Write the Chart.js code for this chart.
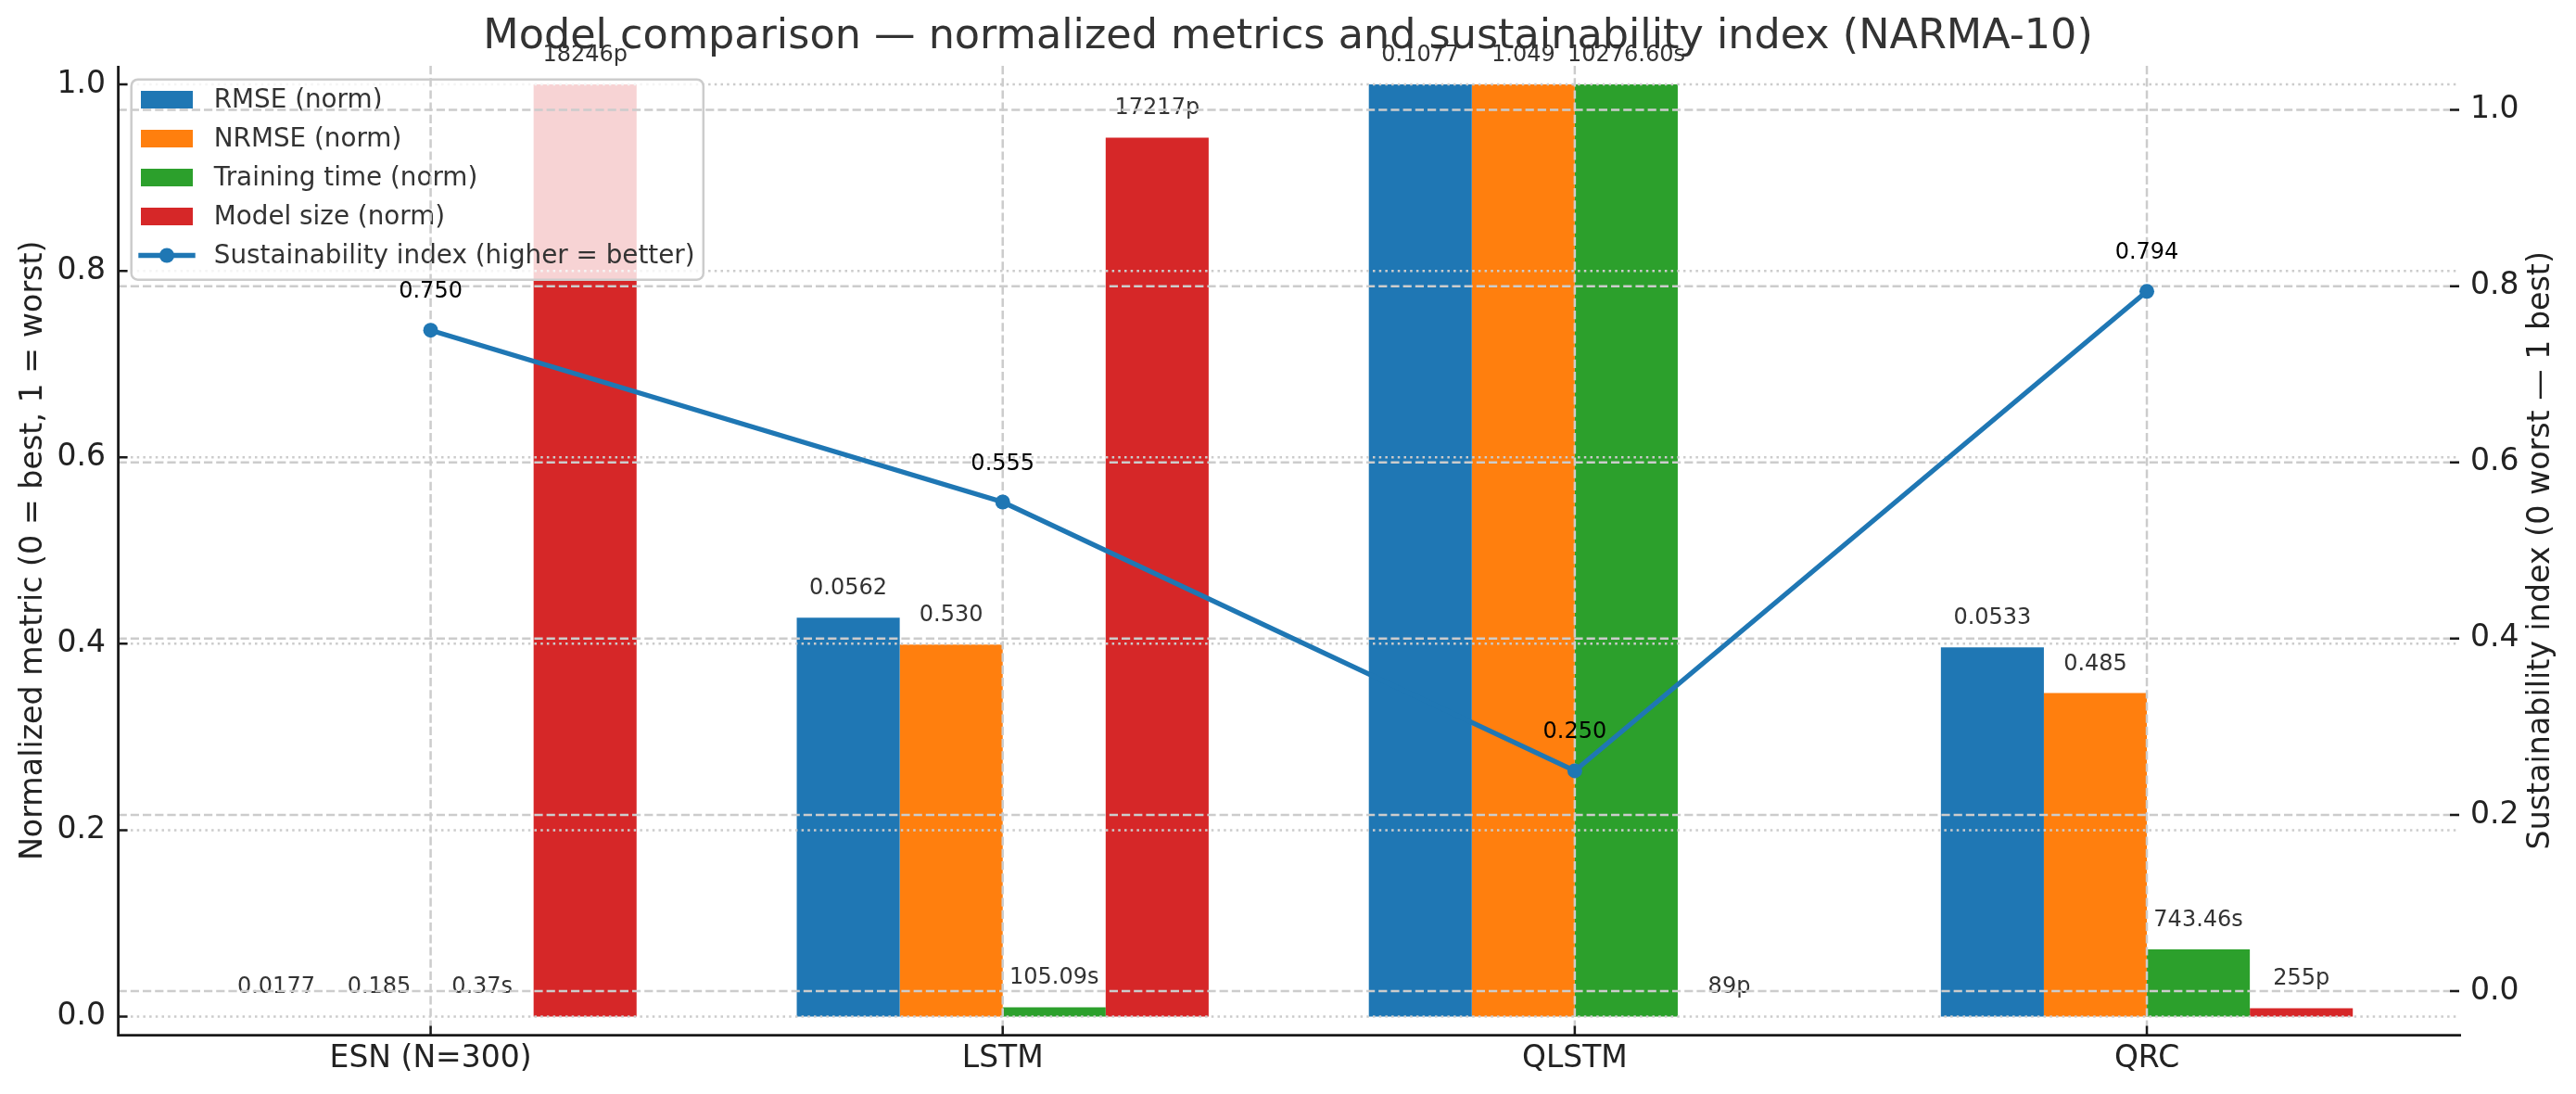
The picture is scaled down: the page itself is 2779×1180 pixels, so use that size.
<!DOCTYPE html>
<html>
<head>
<meta charset="utf-8">
<script src="https://cdn.jsdelivr.net/npm/chart.js@4.4.1/dist/chart.umd.min.js"></script>
<style>
  html, body { margin: 0; padding: 0; background: #ffffff; }
  #wrap { width: 2779px; height: 1180px; }
  canvas { display: block; }
</style>
</head>
<body>
<div id="wrap"><canvas id="c" width="2779" height="1180"></canvas></div>
<script>
// ---------------- DATA ----------------
const categories = ['ESN (N=300)', 'LSTM', 'QLSTM', 'QRC'];
const seriesNames = ['RMSE (norm)', 'NRMSE (norm)', 'Training time (norm)', 'Model size (norm)'];
const lineName = 'Sustainability index (higher = better)';

// normalized values (left axis, 0 = best, 1 = worst)
const rmseNorm  = [0.000, 0.428, 1.000, 0.396];
const nrmseNorm = [0.000, 0.399, 1.000, 0.347];
const timeNorm  = [0.000, 0.010, 1.000, 0.072];
const sizeNorm  = [1.000, 0.943, 0.000, 0.009];

// raw values printed above bars
const rmseLabels  = ['0.0177', '0.0562', '0.1077', '0.0533'];
const nrmseLabels = ['0.185', '0.530', '1.049', '0.485'];
const timeLabels  = ['0.37s', '105.09s', '10276.60s', '743.46s'];
const sizeLabels  = ['18246p', '17217p', '89p', '255p'];

// sustainability index (right axis)
const sustainIndex = [0.750, 0.555, 0.250, 0.794];

const leftTicks  = [0.0, 0.2, 0.4, 0.6, 0.8, 1.0];
const rightTicks = [0.0, 0.2, 0.4, 0.6, 0.8, 1.0];

const titleText = 'Model comparison \u2014 normalized metrics and sustainability index (NARMA-10)';
const leftAxisTitle = 'Normalized metric (0 = best, 1 = worst)';
const rightAxisTitle = 'Sustainability index (0 worst \u2014 1 best)';

// ---------------- STYLE ----------------
const FONT = 'DejaVu Sans';
const colors = ['#1f77b4', '#ff7f0e', '#2ca02c', '#d62728'];
const lineColor = '#1f77b4';
const gridColor = '#cccccc';
const AREA = { left: 127.6, right: 2653, top: 71, bottom: 1116.6 };

Chart.defaults.font.family = FONT;

const barSeries = [rmseNorm, nrmseNorm, timeNorm, sizeNorm];
const barLabels = [rmseLabels, nrmseLabels, timeLabels, sizeLabels];

const datasets = barSeries.map((vals, k) => ({
  type: 'bar',
  label: seriesNames[k],
  data: categories.map((c, i) => ({ x: i, y: vals[i] })),
  backgroundColor: colors[k],
  borderWidth: 0,
  yAxisID: 'y',
  order: 1,
  categoryPercentage: 0.72,
  barPercentage: 1.0
}));
datasets.push({
  type: 'line',
  label: lineName,
  data: categories.map((c, i) => ({ x: i, y: sustainIndex[i] })),
  borderColor: lineColor,
  backgroundColor: lineColor,
  borderWidth: 5.3,
  pointRadius: 8,
  pointBackgroundColor: lineColor,
  pointBorderColor: lineColor,
  pointBorderWidth: 0,
  tension: 0,
  yAxisID: 'y1',
  order: 0
});

function dashedH(ctx, y, x0, x1, dash) {
  ctx.save();
  ctx.strokeStyle = gridColor;
  ctx.lineWidth = 2.5;
  ctx.setLineDash(dash);
  ctx.beginPath(); ctx.moveTo(x0, y); ctx.lineTo(x1, y); ctx.stroke();
  ctx.restore();
}
function dashedV(ctx, x, y0, y1, dash) {
  ctx.save();
  ctx.strokeStyle = gridColor;
  ctx.lineWidth = 2.5;
  ctx.setLineDash(dash);
  ctx.beginPath(); ctx.moveTo(x, y0); ctx.lineTo(x, y1); ctx.stroke();
  ctx.restore();
}

const decor = {
  id: 'decor',
  beforeDatasetDraw(chart, args) {
    if (args.index !== 4) return;
    const ctx = chart.ctx;
    const ca = chart.chartArea;
    const yL = chart.scales.y, yR = chart.scales.y1, xs = chart.scales.x;
    // left-axis dotted grid (above bars)
    leftTicks.forEach(v => dashedH(ctx, yL.getPixelForValue(v), ca.left, ca.right, [2.5, 4.2]));
    // bar value labels
    ctx.save();
    ctx.font = '24px "' + FONT + '"';
    ctx.fillStyle = '#333333';
    ctx.textAlign = 'center';
    ctx.textBaseline = 'alphabetic';
    for (let k = 0; k < 4; k++) {
      const meta = chart.getDatasetMeta(k);
      meta.data.forEach((el, i) => {
        ctx.fillText(barLabels[k][i], el.x, el.y - 25);
      });
    }
    ctx.restore();
    // legend
    ctx.save();
    const lx0 = 141.7, ly0 = 85.7, lx1 = 758.8, ly1 = 301.7, r = 7;
    ctx.beginPath();
    ctx.moveTo(lx0 + r, ly0);
    ctx.arcTo(lx1, ly0, lx1, ly1, r);
    ctx.arcTo(lx1, ly1, lx0, ly1, r);
    ctx.arcTo(lx0, ly1, lx0, ly0, r);
    ctx.arcTo(lx0, ly0, lx1, ly0, r);
    ctx.closePath();
    ctx.fillStyle = 'rgba(255,255,255,0.8)';
    ctx.fill();
    ctx.strokeStyle = '#cccccc';
    ctx.lineWidth = 2.5;
    ctx.stroke();
    ctx.font = '27.8px "' + FONT + '"';
    ctx.fillStyle = '#333333';
    ctx.textBaseline = 'middle';
    ctx.textAlign = 'left';
    const rows = [107.5, 149.5, 191.5, 233.5, 275.5];
    for (let k = 0; k < 4; k++) {
      ctx.fillStyle = colors[k];
      ctx.fillRect(152, rows[k] - 9.5, 56, 19);
      ctx.fillStyle = '#333333';
      ctx.fillText(chart.data.datasets[k].label, 230.8, rows[k] + 1);
    }
    ctx.strokeStyle = lineColor;
    ctx.lineWidth = 5.3;
    ctx.beginPath(); ctx.moveTo(149.3, rows[4]); ctx.lineTo(210.7, rows[4]); ctx.stroke();
    ctx.fillStyle = lineColor;
    ctx.beginPath(); ctx.arc(180, rows[4], 8, 0, Math.PI * 2); ctx.fill();
    ctx.fillStyle = '#333333';
    ctx.fillText(chart.data.datasets[4].label, 230.8, rows[4] + 1);
    ctx.restore();
    // right-axis dashed grid + vertical dashed grid
    rightTicks.forEach(v => dashedH(ctx, yR.getPixelForValue(v), ca.left, ca.right, [9.2, 4]));
    categories.forEach((c, i) => dashedV(ctx, xs.getPixelForValue(i), ca.top, ca.bottom, [9.2, 4]));
  },
  afterDatasetsDraw(chart) {
    const ctx = chart.ctx;
    const ca = chart.chartArea;
    const yL = chart.scales.y, yR = chart.scales.y1, xs = chart.scales.x;
    // line value labels
    ctx.save();
    ctx.font = '24px "' + FONT + '"';
    ctx.fillStyle = '#000000';
    ctx.textAlign = 'center';
    ctx.textBaseline = 'alphabetic';
    chart.getDatasetMeta(4).data.forEach((el, i) => {
      ctx.fillText(sustainIndex[i].toFixed(3), el.x, el.y - 35);
    });
    ctx.restore();
    // spines
    ctx.save();
    ctx.strokeStyle = '#1a1a1a';
    ctx.lineWidth = 2.8;
    ctx.beginPath();
    ctx.moveTo(ca.left, ca.top); ctx.lineTo(ca.left, ca.bottom + 1.4);
    ctx.moveTo(ca.left - 1.4, ca.bottom); ctx.lineTo(ca.right + 2, ca.bottom);
    ctx.stroke();
    // inward ticks
    ctx.lineWidth = 2.5;
    ctx.beginPath();
    leftTicks.forEach(v => { const y = yL.getPixelForValue(v); ctx.moveTo(ca.left, y); ctx.lineTo(ca.left + 10, y); });
    rightTicks.forEach(v => { const y = yR.getPixelForValue(v); ctx.moveTo(ca.right, y); ctx.lineTo(ca.right - 10, y); });
    categories.forEach((c, i) => { const x = xs.getPixelForValue(i); ctx.moveTo(x, ca.bottom); ctx.lineTo(x, ca.bottom - 10); });
    ctx.stroke();
    ctx.restore();
  },
  afterDraw(chart) {
    const ctx = chart.ctx;
    const ca = chart.chartArea;
    const midY = (ca.top + ca.bottom) / 2;
    ctx.save();
    ctx.font = '33.3px "' + FONT + '"';
    ctx.fillStyle = '#222222';
    ctx.textAlign = 'center';
    ctx.textBaseline = 'middle';
    ctx.translate(36, midY);
    ctx.rotate(-Math.PI / 2);
    ctx.fillText(leftAxisTitle, 0, 0);
    ctx.restore();
    ctx.save();
    ctx.font = '33.3px "' + FONT + '"';
    ctx.fillStyle = '#222222';
    ctx.textAlign = 'center';
    ctx.textBaseline = 'middle';
    ctx.translate(2741, midY);
    ctx.rotate(-Math.PI / 2);
    ctx.fillText(rightAxisTitle, 0, 0);
    ctx.restore();
  }
};

new Chart(document.getElementById('c'), {
  type: 'bar',
  data: { datasets },
  options: {
    responsive: false,
    animation: false,
    devicePixelRatio: 1,
    layout: { padding: 0 },
    plugins: {
      legend: { display: false },
      tooltip: { enabled: false },
      title: {
        display: true,
        text: titleText,
        color: '#333333',
        font: { size: 44.5, family: FONT, weight: 'normal', lineHeight: 1.2 },
        padding: { top: 13.4, bottom: 4.2 }
      }
    },
    scales: {
      x: {
        type: 'linear',
        min: -0.546, max: 3.546,
        bounds: 'data',
        offset: false,
        grid: { display: false, drawTicks: false },
        border: { display: false },
        ticks: {
          padding: 6,
          color: '#222222',
          font: { size: 33, family: FONT },
          maxRotation: 0, minRotation: 0, autoSkip: false,
          callback: (v) => (Number.isInteger(v) && categories[v] !== undefined) ? categories[v] : ''
        },
        afterBuildTicks: (s) => { s.ticks = categories.map((c, i) => ({ value: i })); },
        afterFit: (s) => { s.height = 1180 - AREA.bottom; }
      },
      y: {
        type: 'linear',
        position: 'left',
        min: -0.02, max: 1.02,
        bounds: 'data',
        grid: { display: false, drawTicks: false },
        border: { display: false },
        ticks: {
          padding: 13.6,
          color: '#222222',
          font: { size: 33, family: FONT },
          callback: (v) => Number(v).toFixed(1)
        },
        afterBuildTicks: (s) => { s.ticks = leftTicks.map(v => ({ value: v })); },
        afterFit: (s) => { s.width = AREA.left; }
      },
      y1: {
        type: 'linear',
        position: 'right',
        min: -0.05, max: 1.05,
        bounds: 'data',
        grid: { display: false, drawTicks: false },
        border: { display: false },
        ticks: {
          padding: 12,
          color: '#222222',
          font: { size: 33, family: FONT },
          callback: (v) => Number(v).toFixed(1)
        },
        afterBuildTicks: (s) => { s.ticks = rightTicks.map(v => ({ value: v })); },
        afterFit: (s) => { s.width = 2779 - AREA.right; }
      }
    }
  },
  plugins: [decor]
});
</script>
</body>
</html>
